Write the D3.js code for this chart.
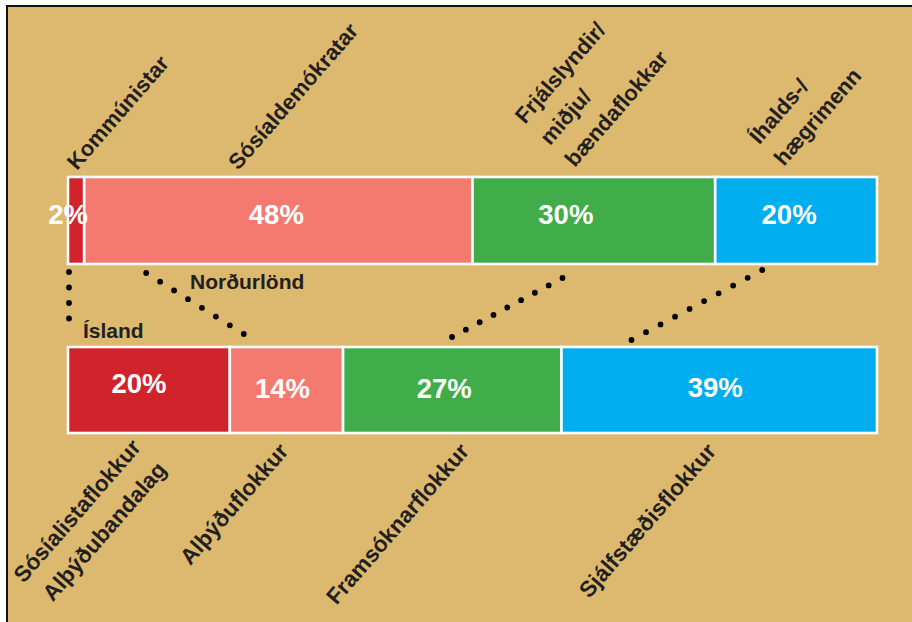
<!doctype html>
<html lang='en'>
<head>
<meta charset='UTF-8'>
<title>Norðurlönd / Ísland</title>
<style>
  body { margin: 0; background: #fff; }
  svg text { font-family: 'Liberation Sans', Arial, sans-serif; font-weight: bold; }
</style>
</head>
<body>
<script src='https://d3js.org/d3.v7.min.js'></script>
<script>
  // data
  const nordicLabels = [['Kommúnistar'], ['Sósíaldemókratar'], ['Frjálslyndir/', 'miðju/', 'bændaflokkar'], ['Íhalds-/', 'hægrimenn']]
  const nordicValues = [2, 48, 30, 20]
  const icelandLabels = [['Sósíalistaflokkur', 'Alþýðubandalag'], ['Alþýðuflokkur'], ['Framsóknarflokkur'], ['Sjálfstæðisflokkur']]
  const icelandValues = [20, 14, 27, 39]
  const rowNames = ['Norðurlönd', 'Ísland']
  const colors = ['#d0232b', '#f47a6f', '#40ad4a', '#00aeef']

  const W = 912, H = 622
  const ink = '#231f20'
  const angle = -49

  const svg = d3.select('body').append('svg')
    .attr('width', W).attr('height', H)

  // frame
  svg.append('rect')
    .attr('x', 7).attr('y', 6).attr('width', W + 10).attr('height', H + 10)
    .attr('fill', '#dcb96e').attr('stroke', '#111').attr('stroke-width', 2)

  const x = d3.scaleLinear().domain([0, 100]).range([68, 877])

  const stack = vals => {
    let acc = 0
    return vals.map((v, i) => {
      const d = { v, i, x0: x(acc), x1: x(acc + v) }
      acc += v
      d.cx = (d.x0 + d.x1) / 2
      return d
    })
  }

  const rows = [
    { y: 177, h: 87, segs: stack(nordicValues), labels: nordicLabels,
      pct: [[-8, 47], [-2, 47], [-28, 47], [-7, 47]] },
    { y: 347, h: 86, segs: stack(icelandValues), labels: icelandLabels,
      pct: [[-10, 46], [-4, 51], [-8, 51], [-4, 50]] }
  ]

  /******** bars ********/
  rows.forEach(r => {
    const g = svg.append('g')
    g.selectAll('rect')
      .data(r.segs)
      .enter()
      .append('rect')
      .attr('x', d => d.x0)
      .attr('y', r.y)
      .attr('width', d => d.x1 - d.x0)
      .attr('height', r.h)
      .attr('fill', d => colors[d.i])
      .attr('stroke', '#fff')
      .attr('stroke-width', 2.6)

    g.selectAll('text')
      .data(r.segs)
      .enter()
      .append('text')
      .attr('x', d => d.cx + r.pct[d.i][0])
      .attr('y', d => r.y + r.pct[d.i][1])
      .attr('text-anchor', 'middle')
      .attr('font-size', 27.5)
      .attr('fill', '#fff')
      .text(d => d.v + '%')
  })

  /******** category labels ********/
  const upper = rows[0], lower = rows[1]
  const topShift = [1, -40, -19, -12]
  const topLift = [6, 6, 9, 10]

  upper.segs.forEach(d => {
    const lines = upper.labels[d.i]
    const t = svg.append('text')
      .attr('transform', `translate(${d.cx + topShift[d.i]},${upper.y - topLift[d.i]}) rotate(${angle})`)
      .attr('font-size', 22)
      .attr('fill', ink)
    lines.forEach((s, j) => {
      t.append('tspan').attr('x', 0).attr('y', -(lines.length - 1 - j) * 33).text(s)
    })
  })

  const botShift = [[-7, 15], [3, 19], [18, 19], [-2, 19]]
  lower.segs.forEach(d => {
    const lines = lower.labels[d.i]
    const t = svg.append('text')
      .attr('transform', `translate(${d.cx + botShift[d.i][0]},${lower.y + lower.h + botShift[d.i][1]}) rotate(${angle})`)
      .attr('font-size', 22.5)
      .attr('text-anchor', 'end')
      .attr('fill', ink)
    lines.forEach((s, j) => {
      t.append('tspan').attr('x', 0).attr('y', j * 34).text(s)
    })
  })

  /******** dotted connectors ********/
  // offsets from each segment's left edge, top end and bottom end
  const linkTop = [[1, 272], [62, 273], [90, 278], [47, 270]]
  const linkBot = [[1, 334], [14, 334], [109, 337], [70, 340]]

  upper.segs.forEach((d, i) => {
    const b = lower.segs[i]
    const x1 = d.x0 + linkTop[i][0], y1 = linkTop[i][1]
    const x2 = b.x0 + linkBot[i][0], y2 = linkBot[i][1]
    const len = Math.hypot(x2 - x1, y2 - y1)
    const n = Math.round(len / 16)
    svg.append('line')
      .attr('x1', x1).attr('y1', y1).attr('x2', x2).attr('y2', y2)
      .attr('stroke', '#000')
      .attr('stroke-width', 5.8)
      .attr('stroke-linecap', 'round')
      .attr('stroke-dasharray', `0 ${len / n}`)
  })

  /******** row names ********/
  svg.append('text')
    .attr('x', 190).attr('y', upper.y + upper.h + 25)
    .attr('font-size', 21).attr('fill', ink)
    .text(rowNames[0])

  svg.append('text')
    .attr('x', lower.segs[0].x0 + 15).attr('y', lower.y - 9)
    .attr('font-size', 21).attr('fill', ink)
    .text(rowNames[1])
</script>
</body>
</html>
